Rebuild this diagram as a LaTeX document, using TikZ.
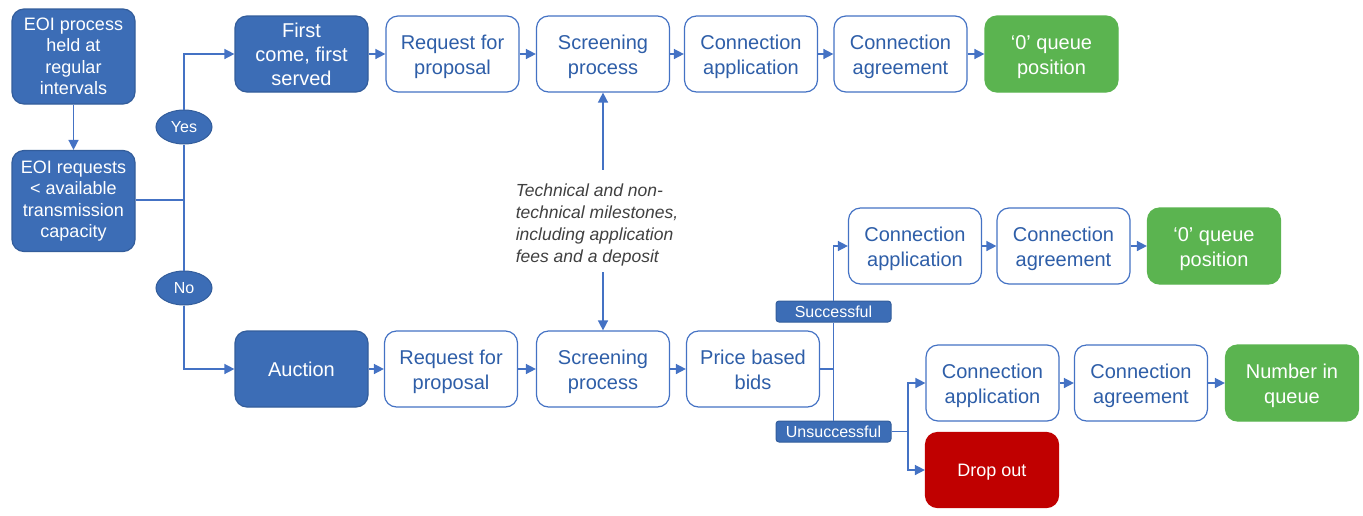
\documentclass[tikz,border=0pt]{standalone}
\usepackage{fontspec}
\setmainfont{Liberation Sans}
\usetikzlibrary{arrows.meta,shapes.geometric}
\definecolor{dblue}{HTML}{3C6DB6}
\definecolor{bline}{HTML}{4472C4}
\definecolor{btext}{HTML}{2E5EA8}
\definecolor{gfill}{HTML}{5BB450}
\definecolor{rfill}{HTML}{C00000}
\definecolor{anntext}{HTML}{404040}
\newcommand{\fu}{\rule{0pt}{21pt}}
\newcommand{\fd}{\rule[-4.5pt]{0pt}{0pt}}
\tikzset{
  base/.style={rounded corners=12pt, align=center, inner sep=2pt, line width=1.2pt},
  darkbox/.style={base, fill=dblue, draw=dblue!85!black, text=white, minimum width=133pt, minimum height=76pt, font=\fontsize{20}{24}\selectfont},
  leftbox/.style={base, fill=dblue, draw=dblue!85!black, text=white, minimum width=123pt, font=\fontsize{18}{21.5}\selectfont},
  whitebox/.style={base, fill=white, draw=bline, text=btext, minimum width=133pt, minimum height=76pt, font=\fontsize{20}{25}\selectfont},
  greenbox/.style={base, fill=gfill, draw=gfill, text=white, minimum width=133pt, minimum height=76pt, font=\fontsize{20}{25}\selectfont},
  redbox/.style={base, fill=rfill, draw=rfill, text=white, minimum width=133pt, minimum height=75pt, font=\fontsize{18}{22}\selectfont, execute at begin node={\rule{0pt}{17pt}}},
  oval/.style={ellipse, fill=dblue, draw=dblue!85!black, line width=1pt, text=white, minimum width=56pt, minimum height=34pt, inner sep=0pt, font=\fontsize{16}{18}\selectfont},
  tag/.style={rounded corners=3pt, fill=dblue, draw=dblue!85!black, line width=1pt, text=white, minimum width=115pt, minimum height=21pt, inner sep=0pt, font=\fontsize{16}{18}\selectfont},
  conn/.style={draw=bline, line width=1.5pt},
  arr/.style={conn, -{Triangle[length=10pt,width=10pt]}},
}
\begin{document}
\begin{tikzpicture}[x=1pt,y=-1pt]
\useasboundingbox (0,0) rectangle (1363,515);
% left
\node[leftbox, minimum height=95pt] (eoi1) at (73.5,56.5) {EOI process\\held at\\regular\\intervals};
\node[leftbox, minimum height=101pt] (eoi2) at (73.5,201) {EOI requests\\< available\\transmission\\capacity};
\node[oval] (yes) at (184,127) {Yes};
\node[oval] (no) at (184,288) {No};
\coordinate (j) at (184,200);
% top row
\node[darkbox] (fcfs) at (301.5,54) {First\\come, first\\served};
\node[whitebox] (rfp1) at (452.5,54) {\fu Request for\\proposal};
\node[whitebox] (scr1) at (603,54) {\fu Screening\\process};
\node[whitebox] (ca1) at (751,54) {\fu Connection\\application};
\node[whitebox] (cag1) at (900.5,54) {\fu Connection\\agreement};
\node[greenbox] (q1) at (1051.5,54) {\fu ‘0’ queue\\position};
% annotation
\node[align=left, text=anntext, font=\fontsize{17.5}{22}\selectfont\itshape, inner xsep=0pt, inner ysep=0pt, minimum height=102pt] (ann) at (597,225) {Technical and non-\\technical milestones,\\including application\\fees and a deposit};
% bottom row
\node[darkbox] (auc) at (301.5,369) {Auction};
\node[whitebox] (rfp2) at (451,369) {\fu Request for\\proposal};
\node[whitebox] (scr2) at (603,369) {\fu Screening\\process};
\node[whitebox] (pbb) at (753,369) {\fu Price based\\bids\fd};
\coordinate (s) at (833.5,369);
\node[tag] (succ) at (833.5,311.5) {Successful};
\node[tag] (unsucc) at (833.5,431.5) {Unsuccessful};
\coordinate (u) at (908,431.5);
% successful branch
\node[whitebox] (ca2) at (915,246) {\fu Connection\\application};
\node[whitebox] (cag2) at (1063.5,246) {\fu Connection\\agreement};
\node[greenbox] (q2) at (1214,246) {\fu ‘0’ queue\\position};
% unsuccessful branch
\node[whitebox] (ca3) at (992.5,383) {\fu Connection\\application};
\node[whitebox] (cag3) at (1141,383) {\fu Connection\\agreement};
\node[greenbox] (niq) at (1292,383) {\fu Number in\\queue};
\node[redbox] (drop) at (992,470) {Drop out};
% connectors
\draw[arr] (eoi1) -- (eoi2);
\draw[conn] (eoi2.east |- j) -- (j);
\draw[conn] (j) -- (yes.south);
\draw[arr] (yes.north) |- (fcfs.west);
\draw[conn] (j) -- (no.north);
\draw[arr] (no.south) |- (auc.west);
\draw[arr] (fcfs) -- (rfp1);
\draw[arr] (rfp1) -- (scr1);
\draw[arr] (scr1) -- (ca1);
\draw[arr] (ca1) -- (cag1);
\draw[arr] (cag1) -- (q1);
\draw[arr] ([yshift=4pt]ann.north -| scr1) -- (scr1.south);
\draw[arr] ([yshift=4pt]ann.south -| scr2) -- (scr2.north);
\draw[arr] (auc) -- (rfp2);
\draw[arr] (rfp2) -- (scr2);
\draw[arr] (scr2) -- (pbb);
\draw[conn] (pbb.east) -- (s);
\draw[conn] (s) -- (succ.south);
\draw[arr] (succ.north) |- (ca2.west);
\draw[conn] (s) -- (unsucc.north);
\draw[conn] (unsucc.east) -- (u);
\draw[arr] (u) |- (ca3.west);
\draw[arr] (u) |- (drop.west);
\draw[arr] (ca2) -- (cag2);
\draw[arr] (cag2) -- (q2);
\draw[arr] (ca3) -- (cag3);
\draw[arr] (cag3) -- (niq);
\end{tikzpicture}
\end{document}
